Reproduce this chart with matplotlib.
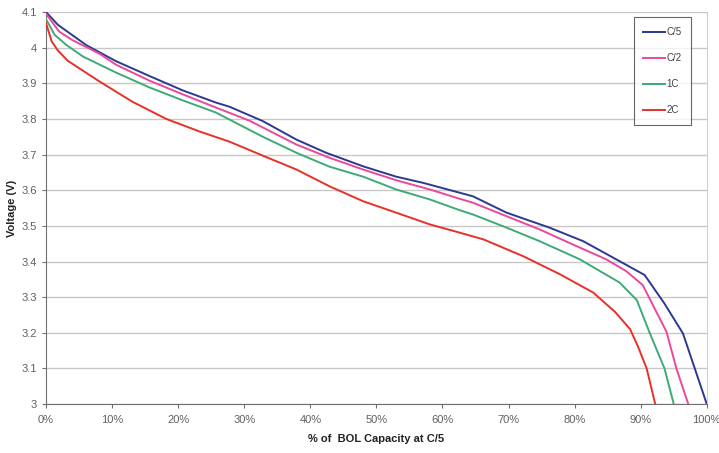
import matplotlib
matplotlib.use("Agg")
import matplotlib.pyplot as plt

plt.rcParams['font.family'] = ['Liberation Sans', 'DejaVu Sans']

# discharge curves, % of BOL capacity at C/5 vs voltage
c5_x = [0, 1.8, 6.1, 10.6, 15.7, 20.7, 25.7, 27.8, 32.8, 37.9, 42.4, 48.0, 53.0, 57.0,
        62.6, 64.6, 69.7, 76.2, 81.3, 86.3, 90.6, 93.6, 96.4, 100]
c5_v = [4.1, 4.064, 4.007, 3.962, 3.92, 3.88, 3.846, 3.834, 3.794, 3.742, 3.705, 3.667,
        3.638, 3.621, 3.593, 3.583, 3.537, 3.495, 3.457, 3.406, 3.362, 3.282, 3.198, 3.0]

c2_x = [0, 2, 4, 8.1, 10.6, 15.7, 20.7, 25.7, 30.8, 37.9, 42.9, 48, 53, 58.1, 62.6,
        64.6, 69.7, 74.7, 79.7, 84.8, 87.8, 90.3, 93.9, 95.4, 97.2]
c2_v = [4.095, 4.045, 4.021, 3.983, 3.952, 3.907, 3.869, 3.832, 3.795, 3.728, 3.691, 3.658,
        3.628, 3.602, 3.576, 3.565, 3.527, 3.49, 3.448, 3.406, 3.373, 3.334, 3.203, 3.1, 3.0]

c1_x = [0, 1.3, 3.05, 5.6, 10.6, 15.7, 20.7, 25.7, 32.8, 37.9, 42.9, 48, 53, 58.1, 62.6,
        64.6, 69.7, 74.7, 80.8, 86.8, 89.4, 91.4, 93.6, 95.0]
c1_v = [4.08, 4.036, 4.008, 3.975, 3.93, 3.888, 3.852, 3.818, 3.75, 3.705, 3.666, 3.638,
        3.602, 3.574, 3.544, 3.532, 3.495, 3.457, 3.406, 3.341, 3.292, 3.198, 3.10, 3.0]

c2c_x = [0, 0.85, 1.75, 3.3, 8.1, 13.1, 18.2, 23.2, 27.8, 32.8, 37.9, 42.9, 48, 53, 58.1,
         62.6, 66.2, 72.2, 77.8, 82.8, 86.1, 88.4, 89.6, 90.9, 92.2]
c2c_v = [4.069, 4.018, 3.993, 3.963, 3.905, 3.848, 3.80, 3.765, 3.736, 3.697, 3.658, 3.611,
         3.569, 3.537, 3.504, 3.481, 3.462, 3.415, 3.364, 3.313, 3.259, 3.21, 3.161, 3.10, 3.0]

labels = ['C/5', 'C/2', '1C', '2C']
colors = ['#2B3990', '#EC4899', '#3FAA78', '#E8302A']

x_ticks = [0, 10, 20, 30, 40, 50, 60, 70, 80, 90, 100]
y_ticks = [3.0, 3.1, 3.2, 3.3, 3.4, 3.5, 3.6, 3.7, 3.8, 3.9, 4.0, 4.1]
y_labels = ['3', '3.1', '3.2', '3.3', '3.4', '3.5', '3.6', '3.7', '3.8', '3.9', '4', '4.1']

fig = plt.figure(figsize=(7.19, 4.53), dpi=100)
ax = fig.add_axes([0.064, 0.108, 0.919, 0.8655])

for xs, vs, lab, col in zip([c5_x, c2_x, c1_x, c2c_x], [c5_v, c2_v, c1_v, c2c_v], labels, colors):
    ax.plot(xs, vs, color=col, lw=1.4, label=lab, zorder=3)

ax.set_xlim(0, 100)
ax.set_ylim(3.0, 4.1)
ax.set_xticks(x_ticks)
ax.set_xticklabels([f"{t}%" for t in x_ticks])
ax.set_yticks(y_ticks)
ax.set_yticklabels(y_labels)
ax.grid(axis='y', color='#C8C8C8', lw=1)
ax.set_axisbelow(True)

for s in ['left', 'bottom']:
    ax.spines[s].set_color('#707070')
ax.spines['right'].set_color('#D0D0D0')
ax.spines['top'].set_visible(False)
ax.tick_params(colors='#707070', labelcolor='#606060', labelsize=8, length=3, direction='out')
ax.tick_params(axis='x', pad=5)

ax.set_ylabel('Voltage (V)', fontsize=8, fontweight='bold', color='#222222', labelpad=3)
ax.set_xlabel('% of  BOL Capacity at C/5', fontsize=8, fontweight='bold', color='#222222', labelpad=6)

leg = ax.legend(loc='upper right', bbox_to_anchor=(0.9768, 0.9865), fontsize=7, frameon=True,
                fancybox=False, edgecolor='#404040', handlelength=2.2, handletextpad=0.2,
                labelspacing=1.65, borderpad=1.0, borderaxespad=0)
leg.get_frame().set_linewidth(0.8)
for t in leg.get_texts():
    t.set_color('#404040')

fig.savefig('out.png', dpi=100)
